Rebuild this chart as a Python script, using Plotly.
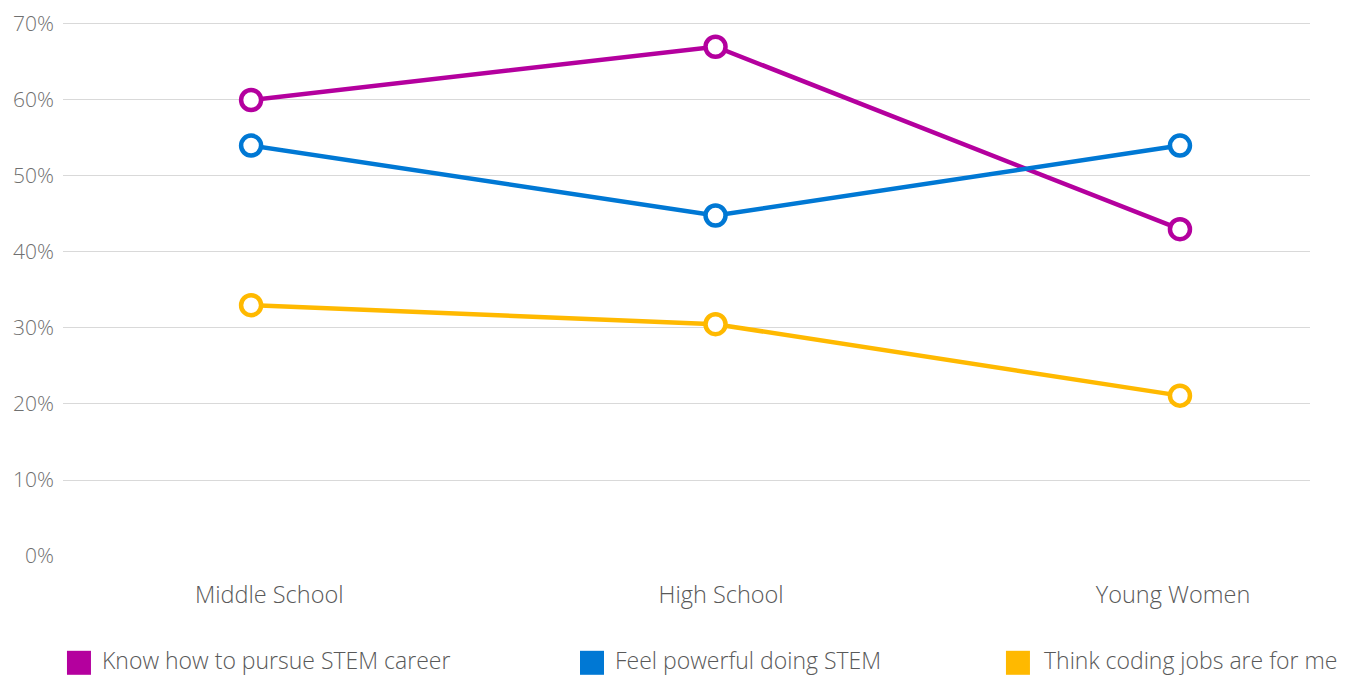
import plotly.graph_objects as go

categories = ["Middle School", "High School", "Young Women"]
series_names = ["Know how to pursue STEM career", "Feel powerful doing STEM", "Think coding jobs are for me"]
know_how = [60, 67, 43]
feel_powerful = [54, 44.8, 54]
think_coding = [33, 30.5, 21.1]
y_ticks = [0, 10, 20, 30, 40, 50, 60, 70]
y_tick_labels = [f"{v}%" for v in y_ticks]

colors = ["#B4009E", "#0078D4", "#FFB900"]
values = [know_how, feel_powerful, think_coding]
x_idx = list(range(len(categories)))

FONT = "Open Sans"
fig = go.Figure()
for name, vals, col in zip(series_names, values, colors):
    fig.add_trace(go.Scatter(
        x=x_idx, y=vals, name=name, mode="lines+markers",
        line=dict(color=col, width=4.5),
        marker=dict(symbol="circle", size=20, color="white", line=dict(color=col, width=4.5)),
        showlegend=False, cliponaxis=False,
    ))

# manual legend
leg_y = -0.2
leg_x = [0.0128, 0.4242, 0.7658]
for name, col, lx in zip(series_names, colors, leg_x):
    fig.add_shape(type="rect", xref="paper", yref="paper", xsizemode="pixel", ysizemode="pixel",
                  xanchor=lx, yanchor=leg_y, x0=-12, x1=12, y0=-12, y1=12,
                  fillcolor=col, line=dict(width=0))
    fig.add_annotation(x=lx, y=leg_y, xref="paper", yref="paper", text=name, showarrow=False,
                       xanchor="left", yanchor="middle", xshift=22 if lx < 0.7 else 25, yshift=3,
                       borderpad=0,
                       font=dict(family=FONT, size=23, color="#595959", weight=300))

fig.update_layout(
    width=1365, height=677,
    margin=dict(l=63, r=55, t=22, b=121),
    paper_bgcolor="white", plot_bgcolor="white",
    font=dict(family=FONT),
    xaxis=dict(range=[-0.405, 2.28], tickvals=[0.039, 1.012, 1.985], ticktext=categories,
               showgrid=False, zeroline=False, showline=False, ticks="", automargin=False,
               tickfont=dict(family=FONT, size=23.5, color="#595959", weight=300), ticklabelstandoff=22),
    yaxis=dict(range=[0, 70.26], tickvals=y_ticks, ticktext=y_tick_labels, automargin=False,
               showgrid=True, gridcolor="#D9D9D9", gridwidth=1, zeroline=False, showline=False,
               ticks="", tickfont=dict(family=FONT, size=21, color="#707070", weight=300), ticklabelstandoff=8),
)

fig.write_html("out.html", config={"displayModeBar": False},
               post_script="document.body.style.margin='0px';document.body.style.overflow='hidden';")
